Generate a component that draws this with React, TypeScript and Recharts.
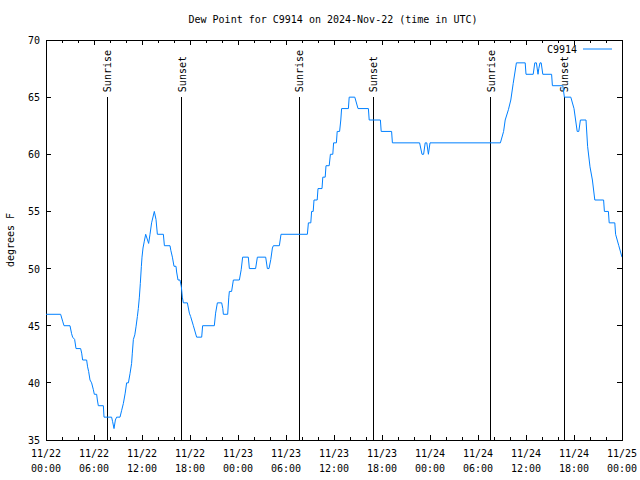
import { LineChart, Line, XAxis, YAxis, ReferenceLine, ReferenceArea } from 'recharts';

// hours since 2024-11-22 00:00 UTC, and dew point (°F)
const hours = [
  0, 1.83, 2.08, 2.25, 3.0, 3.2, 3.33, 3.58, 3.75, 4.33, 4.46, 4.58, 5.08, 5.2, 5.33, 5.5, 5.7, 5.92, 6.04, 6.33,
  6.42, 6.54, 7.17, 7.25, 8.2, 8.33, 8.5, 8.67, 8.83, 9.25, 9.46, 9.67, 9.9, 10.08, 10.3, 10.5, 10.7, 10.79, 10.92, 11.1,
  11.25, 11.42, 11.54, 11.67, 11.79, 11.92, 12.0, 12.125, 12.29, 12.46, 12.83, 13.0, 13.2, 13.54, 13.75, 13.92, 14.67, 14.8, 15.5, 15.6,
  15.8, 16.0, 16.25, 16.33, 16.5, 16.75, 16.92, 17.04, 17.17, 17.67, 17.92, 18.08, 18.42, 18.83, 19.46, 19.58, 21.04, 21.2, 21.42, 21.96,
  22.1, 22.17, 22.71, 22.85, 22.92, 23.2, 23.42, 24.17, 24.4, 24.58, 25.29, 25.42, 26.2, 26.42, 27.46, 27.67, 27.875, 28.1, 28.3, 28.42,
  29.17, 29.375, 32.67, 32.8, 33.1, 33.2, 33.4, 33.5, 33.9, 34.0, 34.5, 34.6, 34.9, 35.0, 35.4, 35.55, 35.85, 35.95, 36.3, 36.4,
  36.7, 36.85, 36.95, 37.8, 37.9, 38.6, 39.0, 40.3,
  40.4, 41.8, 41.9, 43.2, 43.3, 46.7, 47.0, 47.2, 47.4, 47.6, 47.8, 48.0, 56.8, 57.2, 57.4, 57.8, 58.1, 58.4, 58.8, 59.9,
  60.0, 60.9, 61.1, 61.3, 61.5, 61.6, 61.75, 61.9, 62.1, 63.2, 63.3, 64.6, 64.8, 65.6, 66.0, 66.2, 66.4, 66.6, 66.8, 67.5,
  67.7, 68.0, 68.3, 68.6, 69.7, 69.8, 70.3, 70.4, 71.1, 71.2, 71.6, 72,
];
const dewPoint = [
  46, 46, 45.4, 45, 45, 44.3, 44, 43.8, 43, 43, 42.6, 42, 42, 41.4, 41, 40.25, 40, 39.4, 39, 39,
  38.5, 38, 38, 37, 37, 36.6, 36, 36.75, 37, 37, 37.6, 38.2, 39.1, 40, 40, 40.8, 41.7, 42.6, 43.8, 44.2,
  44.9, 45.8, 46.5, 47.5, 48.7, 50.2, 51, 51.8, 52.4, 53, 52.2, 53, 54, 55, 54.3, 53, 53, 52, 52, 51.6,
  51, 50.2, 50.2, 49.7, 49, 49, 48.4, 47.5, 47, 47, 46.1, 45.8, 45, 44, 44, 45, 45, 46.1, 47, 47,
  46.5, 46, 46, 47.5, 48, 48, 49, 49, 49.9, 51, 51, 50, 50, 51, 51, 50, 50, 50.8, 51.8, 52,
  52, 53, 53, 54, 54, 55, 55, 56, 56, 57, 57, 58, 58, 59, 59, 60, 60, 61, 61, 62,
  62, 63, 64, 64, 65, 65, 64, 64,
  63, 63, 62, 62, 61, 61, 60, 60, 61, 61, 60, 61, 61, 62, 63, 63.9, 64.75, 66.2, 68, 68,
  67, 67, 68, 68, 67, 67.5, 68, 68, 67, 67, 66, 66, 65, 65, 64, 63, 62, 62, 63, 63,
  60.7, 58.9, 57.75, 56, 56, 55, 55, 54, 54, 53, 52, 51,
];

const eventNames = ['Sunrise', 'Sunset', 'Sunrise', 'Sunset', 'Sunrise', 'Sunset'];
const eventHours = [7.65, 16.95, 31.65, 40.9, 55.6, 64.8];

const xTicks = [0, 2, 4, 6, 8, 10, 12, 14, 16, 18, 20, 22, 24, 26, 28, 30, 32, 34, 36, 38, 40, 42, 44, 46, 48, 50, 52, 54, 56, 58, 60, 62, 64, 66, 68, 70, 72];
const dayLabels = ['11/22', '11/23', '11/24', '11/25'];
const timeLabels = ['00:00', '06:00', '12:00', '18:00'];
const yTicks = [35, 40, 45, 50, 55, 60, 65, 70];

const FONT = "'DejaVu Sans Mono', monospace";
const LINE_COLOR = '#0080ff';
const PLOT = { left: 46, right: 622, top: 40, bottom: 440 };
const EVENT_LINE_TOP = 65;

const chartData = hours.map((h, i) => ({ h, dew: dewPoint[i] }));

function XTick(props: any) {
  const { x, y, payload } = props;
  const h = payload.value;
  const major = h % 6 === 0;
  const len = major ? 5 : 3;
  return (
    <g>
      <line x1={x} x2={x} y1={PLOT.bottom} y2={PLOT.bottom - len} stroke="#000" shapeRendering="crispEdges" />
      <line x1={x} x2={x} y1={PLOT.top} y2={PLOT.top + len} stroke="#000" shapeRendering="crispEdges" />
      {major && (
        <text x={x} y={y} textAnchor="middle" fontFamily={FONT} fontSize={10} fill="#000">
          <tspan x={x} dy={17}>{dayLabels[Math.floor(h / 24)]}</tspan>
          <tspan x={x} dy={15}>{timeLabels[(h % 24) / 6]}</tspan>
        </text>
      )}
    </g>
  );
}

function YTick(props: any) {
  const { x, y, payload } = props;
  return (
    <g>
      <line x1={PLOT.left} x2={PLOT.left + 5} y1={y} y2={y} stroke="#000" shapeRendering="crispEdges" />
      <line x1={PLOT.right - 5} x2={PLOT.right} y1={y} y2={y} stroke="#000" shapeRendering="crispEdges" />
      <text x={x - 6} y={y} dy={4} textAnchor="end" fontFamily={FONT} fontSize={10} fill="#000">
        {payload.value}
      </text>
    </g>
  );
}

function EventLabel({ viewBox, text }: any) {
  const tx = viewBox.x + 4;
  const ty = viewBox.y - 5;
  return (
    <text x={tx} y={ty} transform={`rotate(-90 ${tx} ${ty})`} textAnchor="start" fontFamily={FONT} fontSize={10} fill="#000">
      {text}
    </text>
  );
}

export default function App() {
  return (
    <div style={{ position: 'absolute', left: 0, top: 0, width: 640, height: 480, background: '#fff' }}>
      <LineChart width={640} height={480} data={chartData} margin={{ top: 40, right: 18, bottom: 0, left: 0 }}>
        <XAxis
          dataKey="h"
          type="number"
          domain={[0, 72]}
          ticks={xTicks}
          interval={0}
          tickSize={0}
          tickMargin={0}
          axisLine={false}
          tickLine={false}
          height={40}
          tick={(p: any) => <XTick {...p} />}
          allowDataOverflow
        />
        <YAxis
          type="number"
          domain={[35, 70]}
          ticks={yTicks}
          interval={0}
          tickSize={0}
          tickMargin={0}
          axisLine={false}
          tickLine={false}
          width={46}
          tick={(p: any) => <YTick {...p} />}
          allowDataOverflow
        />
        <ReferenceArea x1={0} x2={72} y1={35} y2={70} fill="none" stroke="#000" strokeWidth={1} shapeRendering="crispEdges" />
        {eventHours.map((h, i) => (
          <ReferenceLine
            key={i}
            segment={[{ x: h, y: 35 }, { x: h, y: EVENT_LINE_TOP }]}
            stroke="#000"
            strokeWidth={1}
            shapeRendering="crispEdges"
            label={(p: any) => <EventLabel viewBox={p.viewBox} text={eventNames[i]} />}
          />
        ))}
        <Line type="linear" dataKey="dew" stroke={LINE_COLOR} strokeWidth={1} dot={false} isAnimationActive={false} />
      </LineChart>
      <svg width={640} height={480} style={{ position: 'absolute', left: 0, top: 0, pointerEvents: 'none' }}>
        <text x={333} y={23} textAnchor="middle" fontFamily={FONT} fontSize={10} fill="#000">
          Dew Point for C9914 on 2024-Nov-22 (time in UTC)
        </text>
        <text x={14} y={240} transform="rotate(-90 14 240)" textAnchor="middle" fontFamily={FONT} fontSize={10} fill="#000">
          degrees F
        </text>
        <text x={577} y={53} textAnchor="end" fontFamily={FONT} fontSize={10} fill="#000">
          C9914
        </text>
        <line x1={583} x2={612} y1={49} y2={49} stroke={LINE_COLOR} strokeWidth={1} />
      </svg>
    </div>
  );
}
